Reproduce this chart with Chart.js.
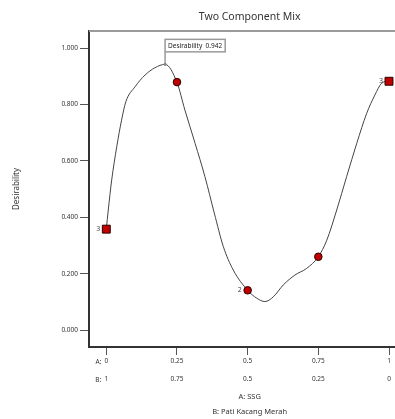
<!DOCTYPE html>
<html><head><meta charset="utf-8">
<script src="https://cdn.jsdelivr.net/npm/chart.js@4/dist/chart.umd.min.js"></script>
<style>html,body{margin:0;padding:0;background:#fff}#wrap{width:395px;height:419px}</style>
</head><body><div id="wrap"><canvas id="c" width="395" height="419"></canvas></div>
<script>
const chartTitle = 'Two Component Mix';
const yTitle = 'Desirability';
const xTitleLines = ['A: SSG', 'B: Pati Kacang Merah'];
const xTickValues = [0, 0.25, 0.5, 0.75, 1];
const xTicksA = ['0', '0.25', '0.5', '0.75', '1'];
const xTicksB = ['1', '0.75', '0.5', '0.25', '0'];
const yTickValues = [0, 0.2, 0.4, 0.6, 0.8, 1.0];
// design points
const designX = [0, 0.25, 0.5, 0.75, 1];
const designY = [0.358, 0.880, 0.141, 0.260, 0.883];
const designLabels = ['3', '', '2', '', '3'];
const designShapes = ['rect', 'circle', 'circle', 'circle', 'rect'];
// predicted desirability curve
const curveX = [0, 0.007, 0.019, 0.037, 0.054, 0.069, 0.102, 0.137, 0.172, 0.208, 0.250, 0.278, 0.314, 0.349, 0.382, 0.414, 0.449, 0.500, 0.532, 0.561, 0.591, 0.626, 0.667, 0.709, 0.750, 0.780, 0.815, 0.850, 0.886, 0.921, 0.950, 0.974, 1.000];
const curveY = [0.358, 0.426, 0.532, 0.651, 0.745, 0.810, 0.864, 0.905, 0.931, 0.943, 0.879, 0.781, 0.663, 0.544, 0.415, 0.296, 0.213, 0.141, 0.113, 0.101, 0.118, 0.160, 0.195, 0.219, 0.260, 0.319, 0.426, 0.544, 0.663, 0.769, 0.834, 0.876, 0.884];
const optimumX = 0.208;
const optimumY = 0.943;
const optimumText = 'Desirability  0.942';

const FONT = "'Noto Sans', 'Open Sans', sans-serif";

const extras = {
  id: 'extras',
  afterDraw(chart) {
    const {ctx, chartArea: ca, scales: {x, y}} = chart;
    ctx.save();
    // top frame line
    ctx.strokeStyle = '#9a9a9a';
    ctx.lineWidth = 2;
    ctx.beginPath(); ctx.moveTo(ca.left, ca.top); ctx.lineTo(chart.width, ca.top); ctx.stroke();
    // title
    const cx = x.getPixelForValue(0.5) + 2;
    ctx.fillStyle = '#333';
    ctx.font = '10.5px ' + FONT;
    ctx.textAlign = 'center'; ctx.textBaseline = 'middle';
    ctx.fillText(chartTitle, cx, 17);
    // x title lines
    ctx.font = '7.5px ' + FONT;
    ctx.fillText(xTitleLines[0], cx, 397);
    ctx.fillText(xTitleLines[1], cx, 412);
    // A: / B: prefixes
    ctx.font = '6.5px ' + FONT;
    ctx.textAlign = 'right';
    const x0 = x.getPixelForValue(xTickValues[0]);
    ctx.fillText('A:', x0 - 5, 362);
    ctx.fillText('B:', x0 - 5, 380);
    // design point labels
    ctx.font = '7px ' + FONT;
    ctx.fillStyle = '#444';
    designX.forEach((v, i) => {
      if (!designLabels[i]) return;
      ctx.fillText(designLabels[i], x.getPixelForValue(v) - 6, y.getPixelForValue(designY[i]));
    });
    // optimum annotation
    const px = x.getPixelForValue(optimumX), py = y.getPixelForValue(optimumY);
    const bx = px, bh = 12.5, by = py - 12.5 - bh;
    ctx.font = '6.5px ' + FONT;
    const tw = ctx.measureText(optimumText).width + 6;
    ctx.strokeStyle = '#9a9a9a'; ctx.lineWidth = 1.5;
    ctx.beginPath(); ctx.moveTo(px, py); ctx.lineTo(px, by + bh); ctx.stroke();
    ctx.fillStyle = '#fff';
    ctx.fillRect(bx, by, tw, bh);
    ctx.strokeRect(bx, by, tw, bh);
    ctx.fillStyle = '#222'; ctx.textAlign = 'left';
    ctx.fillText(optimumText, bx + 3, by + bh / 2 + 0.5);
    ctx.fillStyle = '#888';
    ctx.beginPath(); ctx.arc(px, py, 1.6, 0, Math.PI * 2); ctx.fill();
    ctx.restore();
  }
};

new Chart(document.getElementById('c'), {
  type: 'scatter',
  data: {
    datasets: [
      {
        label: 'Desirability',
        data: curveX.map((v, i) => ({x: v, y: curveY[i]})),
        showLine: true,
        borderColor: '#444',
        borderWidth: 1,
        pointRadius: 0,
        cubicInterpolationMode: 'monotone',
        order: 2
      },
      {
        label: 'Design points',
        data: designX.map((v, i) => ({x: v, y: designY[i]})),
        showLine: false,
        pointStyle: designShapes,
        pointRadius: designShapes.map(s => s === 'rect' ? 5.6 : 3.8),
        backgroundColor: '#c00000',
        borderColor: '#2a0000',
        borderWidth: 1,
        order: 1
      }
    ]
  },
  options: {
    responsive: false,
    animation: false,
    devicePixelRatio: 1,
    layout: {autoPadding: false, padding: {left: 0, top: 31, right: 0, bottom: 0}},
    plugins: {legend: {display: false}, tooltip: {enabled: false}, title: {display: false}},
    scales: {
      x: {
        type: 'linear',
        min: -0.0612,
        max: 1.0212,
        afterFit(s) { s.height = 72; s.paddingLeft = 0; s.paddingRight = 0; },
        afterBuildTicks(s) { s.ticks = xTickValues.map(v => ({value: v})); },
        grid: {drawOnChartArea: false, drawTicks: true, tickLength: 8, color: '#555', lineWidth: 1},
        border: {display: true, color: '#333', width: 2},
        ticks: {
          autoSkip: false, maxRotation: 0,
          padding: -3,
          color: '#333',
          font: {family: FONT, size: 6.5, lineHeight: 2.75},
          callback(v) { const i = xTickValues.indexOf(v); return i < 0 ? '' : [xTicksA[i], xTicksB[i]]; }
        }
      },
      y: {
        min: -0.0603,
        max: 1.0614,
        afterFit(s) { s.width = 89; s.paddingTop = 0; s.paddingBottom = 0; },
        afterBuildTicks(s) { s.ticks = yTickValues.map(v => ({value: v})); },
        grid: {drawOnChartArea: false, drawTicks: true, tickLength: 9, color: '#555', lineWidth: 1},
        border: {display: true, color: '#333', width: 2},
        title: {display: true, text: yTitle, color: '#333', font: {family: FONT, size: 8}, padding: {top: 12, bottom: 0}},
        ticks: {
          padding: 2,
          color: '#333',
          font: {family: FONT, size: 6.5},
          callback(v) { return v.toFixed(3); }
        }
      }
    }
  },
  plugins: [extras]
});
</script></body></html>
